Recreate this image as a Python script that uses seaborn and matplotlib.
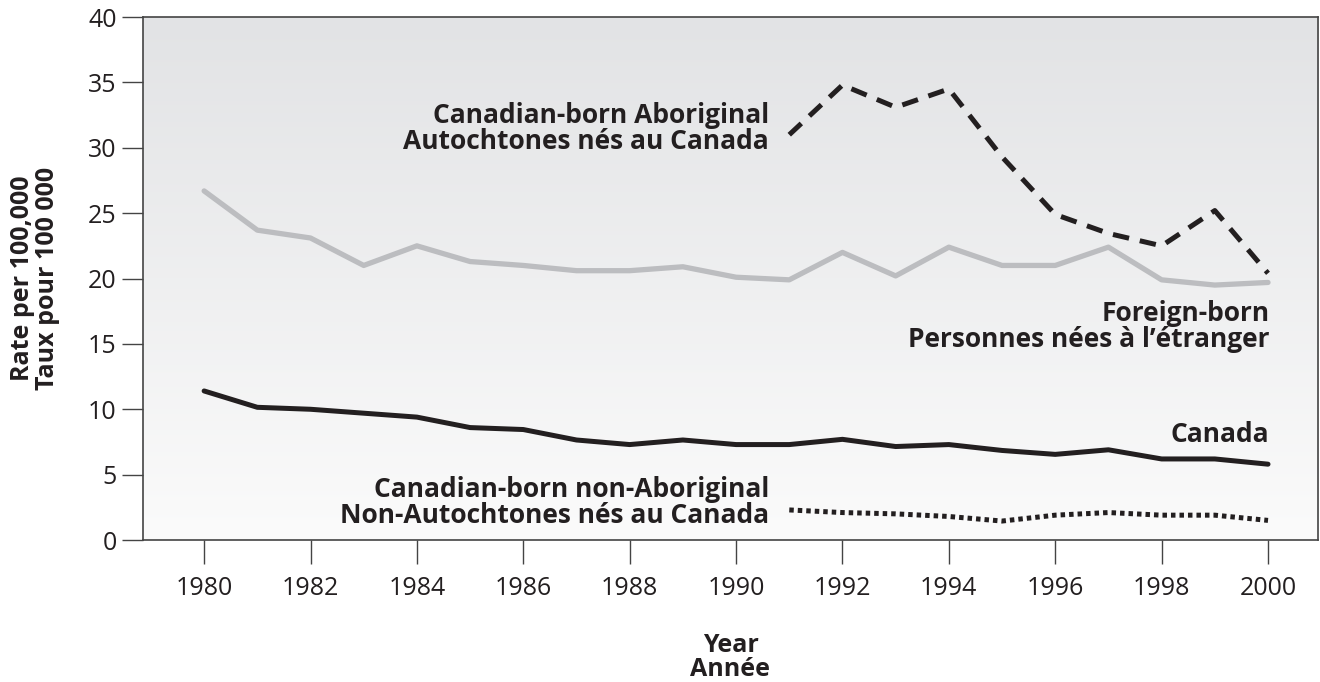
import matplotlib
matplotlib.use("Agg")
import matplotlib.pyplot as plt
import numpy as np
import pandas as pd
import seaborn as sns

YEARS = list(range(1980, 2001))
YEARS_9100 = list(range(1991, 2001))

FOREIGN_BORN = [26.7, 23.7, 23.1, 21.0, 22.5, 21.3, 21.0, 20.6, 20.6, 20.9, 20.1,
                19.9, 22.0, 20.2, 22.4, 21.0, 21.0, 22.4, 19.9, 19.5, 19.7]
CANADA = [11.4, 10.15, 10.0, 9.7, 9.4, 8.6, 8.45, 7.65, 7.3, 7.65, 7.3,
          7.3, 7.7, 7.15, 7.3, 6.85, 6.55, 6.9, 6.2, 6.2, 5.8]
ABORIGINAL = [31.0, 34.8, 33.1, 34.5, 29.3, 24.9, 23.45, 22.5, 25.2, 20.4]
NON_ABORIGINAL = [2.3, 2.1, 2.0, 1.8, 1.45, 1.9, 2.1, 1.9, 1.9, 1.5]

sns.set_style("ticks")
plt.rcParams["font.family"] = ["Open Sans", "DejaVu Sans"]
INK = "#231f20"

fig = plt.figure(figsize=(13.2, 6.82), dpi=100)
ax = fig.add_axes([0.1083, 0.2082, 0.8902, 0.7668])

# gradient background, light grey at top fading to white
grad = np.linspace(0, 1, 256).reshape(-1, 1)
cmap = matplotlib.colors.LinearSegmentedColormap.from_list("bg", ["#e2e3e5", "#fbfbfb"])
ax.imshow(grad, cmap=cmap, aspect="auto", extent=[0, 1, 0, 1],
          transform=ax.transAxes, zorder=0, origin="upper")

sns.lineplot(x=YEARS, y=FOREIGN_BORN, ax=ax, color="#bcbdc0", linewidth=3.8, zorder=2)
sns.lineplot(x=YEARS, y=CANADA, ax=ax, color=INK, linewidth=3.6, zorder=3)
sns.lineplot(x=YEARS_9100, y=ABORIGINAL, ax=ax, color=INK, linewidth=3.6,
             linestyle=(0, (3.3, 2.2)), zorder=3)
sns.lineplot(x=YEARS_9100, y=NON_ABORIGINAL, ax=ax, color=INK, linewidth=3.6,
             linestyle=(0, (0.9, 0.8)), zorder=3)

ax.set_xlim(1978.85, 2000.94)
ax.set_ylim(0, 40)
ax.set_xticks(range(1980, 2001, 2))
ax.set_yticks(range(0, 41, 5))
ax.tick_params(axis="both", direction="out", width=1.0, color="#444444",
               labelsize=18, labelcolor=INK)
ax.tick_params(axis="y", length=15, pad=4)
ax.tick_params(axis="x", length=17, pad=9)

for spine in ax.spines.values():
    spine.set_visible(True)
    spine.set_color("#444444")
    spine.set_linewidth(1.2)

ax.set_xlabel("Year\nAnnée", fontsize=18, fontweight="bold", color=INK, linespacing=0.95)
ax.xaxis.set_label_coords(0.5, -0.177)
ax.set_ylabel("Rate per 100,000\nTaux pour 100 000", fontsize=18, fontweight="bold",
              color=INK, linespacing=0.95)
ax.yaxis.set_label_coords(-0.071, 0.5)

lab = dict(fontsize=19, fontweight="bold", color=INK, ha="right", va="center",
           linespacing=0.95)
ax.text(1990.62, 31.5, "Canadian-born Aboriginal\nAutochtones nés au Canada", **lab)
ax.text(2000.03, 16.3, "Foreign-born\nPersonnes nées à l\u2019étranger", **lab)
ax.text(2000.03, 8.1, "Canada", **lab)
ax.text(1990.62, 2.9, "Canadian-born non-Aboriginal\nNon-Autochtones nés au Canada", **lab)

fig.savefig("out.png", dpi=100)
